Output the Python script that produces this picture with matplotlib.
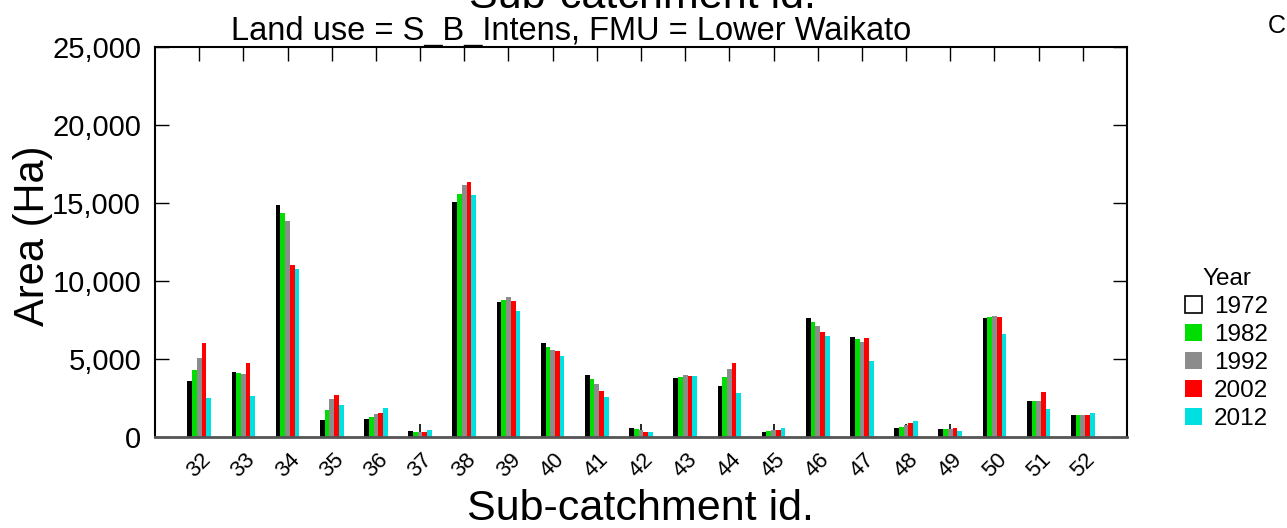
import numpy as np
import matplotlib
matplotlib.use("Agg")
import matplotlib.pyplot as plt
from matplotlib.patches import Patch
from matplotlib.ticker import FuncFormatter

plt.rcParams['font.family'] = ['Liberation Sans', 'DejaVu Sans']

# sub-catchment ids and area (Ha) per year
ids = [32, 33, 34, 35, 36, 37, 38, 39, 40, 41, 42, 43, 44, 45, 46, 47, 48, 49, 50, 51, 52]
years = ['1972', '1982', '1992', '2002', '2012']
a1972 = [3590, 4150, 14850, 1070, 1150, 385, 15060, 8680, 6050, 3950, 555, 3760, 3270, 300, 7650, 6430, 555, 510, 7630, 2300, 1390]
a1982 = [4320, 4100, 14360, 1750, 1300, 340, 15600, 8800, 5790, 3700, 490, 3850, 3830, 365, 7370, 6260, 640, 510, 7670, 2300, 1390]
a1992 = [5090, 4060, 13870, 2440, 1470, 340, 16150, 8970, 5580, 3420, 450, 3950, 4380, 450, 7120, 6090, 770, 510, 7750, 2300, 1390]
a2002 = [6050, 4740, 11000, 2690, 1520, 320, 16370, 8700, 5490, 2950, 320, 3910, 4740, 450, 6710, 6350, 920, 555, 7690, 2860, 1390]
a2012 = [2480, 2650, 10750, 2030, 1880, 450, 15530, 8080, 5190, 2560, 320, 3910, 2800, 577, 6480, 4870, 1000, 405, 6600, 1800, 1540]

# small black whiskers drawn on top of some groups
whisker_ids = [37, 42, 45, 48, 49]
whisker_top = [820, 820, 820, 840, 820]

colors = ['#000000', '#00DD00', '#8C8C8C', '#FF0000', '#00E0E0']
series = [a1972, a1982, a1992, a2002, a2012]

fig = plt.figure(figsize=(12.87, 5.28), dpi=100)
ax = fig.add_axes([155/1287, 1 - 437/528, (1127 - 155)/1287, (437 - 47)/528])

x = np.arange(len(ids))
w = 0.107
for k, (vals, c) in enumerate(zip(series, colors)):
    ax.bar(x + (k - 2)*w, vals, width=w, color=c, edgecolor='none', zorder=2)

for i, top in zip(whisker_ids, whisker_top):
    j = ids.index(i)
    ax.vlines(j, a1992[j], top, color='black', lw=1.2, zorder=3)

ax.set_xlim(-1, len(ids))
ax.set_ylim(0, 25000)
ax.set_yticks(np.arange(0, 25001, 5000))
ax.yaxis.set_major_formatter(FuncFormatter(lambda v, p: f"{int(v):,}"))
ax.set_xticks(x)
ax.set_xticklabels([str(i) for i in ids], rotation=45, fontsize=16,
                   ha='center', va='top')

ax.tick_params(axis='y', direction='in', length=10, width=1, labelsize=21,
               right=True, pad=10)
ax.tick_params(axis='x', direction='in', length=0, top=False, pad=9)
# top ticks at the category positions
sec = ax.secondary_xaxis('top')
sec.set_xticks(x)
sec.set_xticklabels([])
sec.tick_params(direction='in', length=10, width=1)
sec.spines['top'].set_visible(False)

for s in ['left', 'right', 'top']:
    ax.spines[s].set_linewidth(1.5)
ax.spines['bottom'].set_linewidth(2)
ax.spines['bottom'].set_color('#555555')

fig.text(33/1287, 1 - 236/528, 'Area (Ha)', rotation=90, fontsize=30,
         ha='center', va='center')
fig.text(640/1287, 1 - 520/528, 'Sub-catchment id.', fontsize=31,
         ha='center', va='baseline')
fig.text(571/1287, 1 - 40/528, 'Land use = S_B_Intens, FMU = Lower Waikato',
         fontsize=23.5, ha='center', va='baseline')
# clipped text at the top edge, as in the original export
fig.text(642/1287, 1 - 8/528, 'Sub-catchment id.', fontsize=31,
         ha='center', va='baseline')
fig.text(1268/1287, 1 - 33/528, 'C', fontsize=18, ha='left', va='baseline')

handles = [Patch(facecolor='white', edgecolor='black', lw=1.2)]
handles += [Patch(facecolor=c, edgecolor='none') for c in colors[1:]]
leg = fig.legend(handles, years, title='Year', loc='upper left',
                 bbox_to_anchor=(1185/1287, 1 - 268/528), frameon=False,
                 fontsize=17.5, title_fontsize=17.5, handlelength=0.7,
                 handleheight=0.7, handletextpad=0.5, labelspacing=0.25,
                 borderaxespad=0, borderpad=0)

fig.savefig('out.png', dpi=100)
